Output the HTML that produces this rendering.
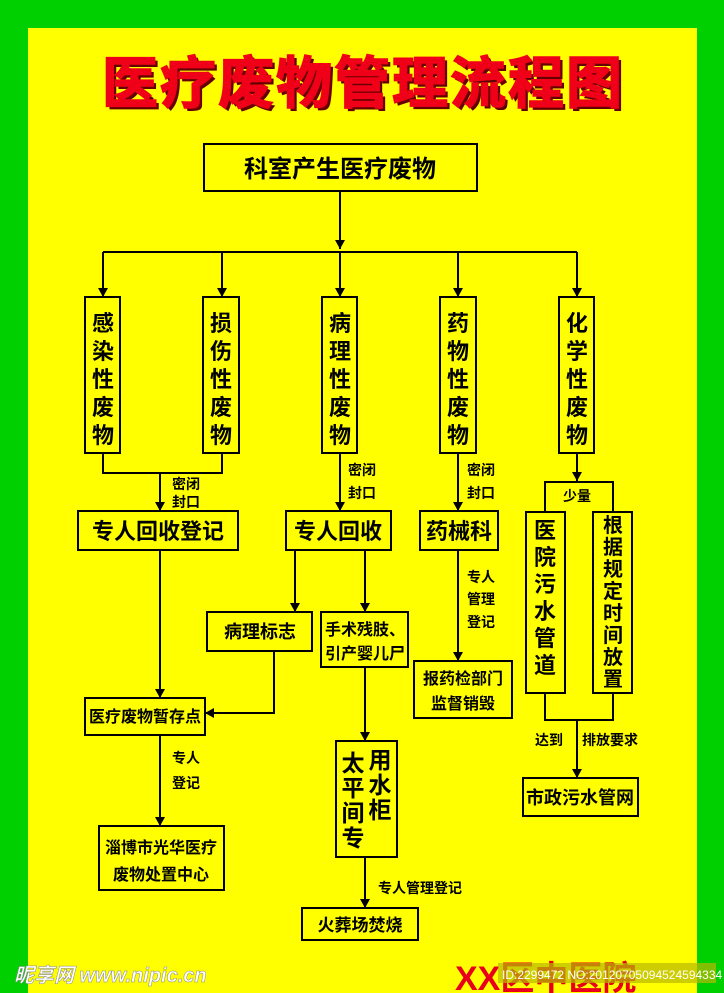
<!DOCTYPE html>
<html><head><meta charset="utf-8"><style>
html,body{margin:0;padding:0;background:#00d000;}
svg{display:block}
text{font-family:"Liberation Sans","Noto Sans CJK SC",sans-serif;fill:#000;}
</style></head><body>
<svg width="724" height="993" viewBox="0 0 724 993" xmlns="http://www.w3.org/2000/svg">
<defs><marker id="a" markerWidth="10" markerHeight="10" refX="9" refY="5" orient="auto" markerUnits="userSpaceOnUse"><path d="M0,0 L9,5 L0,10 Z" fill="#000"/></marker></defs>
<rect x="0" y="0" width="724" height="993" fill="#00d000"/>
<rect x="28" y="28" width="669" height="965" fill="#ffff00"/>
<text x="366" y="106" text-anchor="middle" font-size="56" font-weight="bold" style="fill:#600;letter-spacing:2px;font-family:'Noto Sans CJK SC',sans-serif">医疗废物管理流程图</text>
<text x="363" y="103" text-anchor="middle" font-size="56" font-weight="bold" style="fill:#f00018;stroke:#f00018;stroke-width:1.5;letter-spacing:2px;font-family:'Noto Sans CJK SC',sans-serif">医疗废物管理流程图</text>
<g fill="none" stroke="#000" stroke-width="2">
<rect x="204" y="144" width="273" height="47"/>
<rect x="85" y="297" width="35" height="156"/>
<rect x="203" y="297" width="36" height="156"/>
<rect x="322" y="297" width="35" height="156"/>
<rect x="440" y="297" width="36" height="156"/>
<rect x="559" y="297" width="35" height="156"/>
<rect x="78" y="511" width="160" height="39"/>
<rect x="286" y="511" width="105" height="39"/>
<rect x="420" y="511" width="78" height="39"/>
<rect x="526" y="512" width="39" height="181"/>
<rect x="593" y="512" width="39" height="181"/>
<rect x="523" y="778" width="115" height="38"/>
<rect x="85" y="698" width="120" height="37"/>
<rect x="99" y="826" width="125" height="64"/>
<rect x="207" y="612" width="105" height="39"/>
<rect x="321" y="612" width="87" height="55"/>
<rect x="336" y="741" width="61" height="116"/>
<rect x="302" y="908" width="116" height="32"/>
<rect x="414" y="661" width="98" height="57"/>
</g>
<g fill="none" stroke="#000" stroke-width="2">
<path d="M340,191 V249" marker-end="url(#a)"/>
<path d="M103,252 H577"/>
<path d="M103,252 V297" marker-end="url(#a)"/>
<path d="M222,252 V297" marker-end="url(#a)"/>
<path d="M340,252 V297" marker-end="url(#a)"/>
<path d="M458,252 V297" marker-end="url(#a)"/>
<path d="M577,252 V297" marker-end="url(#a)"/>
<path d="M103,453 V473 H222 V453"/>
<path d="M160,473 V511" marker-end="url(#a)"/>
<path d="M340,453 V511" marker-end="url(#a)"/>
<path d="M458,453 V511" marker-end="url(#a)"/>
<path d="M577,453 V481" marker-end="url(#a)"/>
<path d="M545,512 V482 H613 V512"/>
<path d="M545,693 V720 H613 V693"/>
<path d="M577,720 V778" marker-end="url(#a)"/>
<path d="M160,550 V698" marker-end="url(#a)"/>
<path d="M160,735 V826" marker-end="url(#a)"/>
<path d="M295,550 V612" marker-end="url(#a)"/>
<path d="M365,550 V612" marker-end="url(#a)"/>
<path d="M274,651 V713 H205" marker-end="url(#a)"/>
<path d="M365,667 V741" marker-end="url(#a)"/>
<path d="M365,857 V908" marker-end="url(#a)"/>
<path d="M458,550 V661" marker-end="url(#a)"/>
</g>
<text x="340" y="177" text-anchor="middle" font-size="24" font-weight="bold">科室产生医疗废物</text>
<g font-size="22" text-anchor="middle" font-weight="bold">
<text x="103" y="331">感</text><text x="103" y="359">染</text><text x="103" y="387">性</text><text x="103" y="415">废</text><text x="103" y="443">物</text>
<text x="221" y="331">损</text><text x="221" y="359">伤</text><text x="221" y="387">性</text><text x="221" y="415">废</text><text x="221" y="443">物</text>
<text x="340" y="331">病</text><text x="340" y="359">理</text><text x="340" y="387">性</text><text x="340" y="415">废</text><text x="340" y="443">物</text>
<text x="458" y="331">药</text><text x="458" y="359">物</text><text x="458" y="387">性</text><text x="458" y="415">废</text><text x="458" y="443">物</text>
<text x="577" y="331">化</text><text x="577" y="359">学</text><text x="577" y="387">性</text><text x="577" y="415">废</text><text x="577" y="443">物</text>
<text x="545" y="538">医</text><text x="545" y="565">院</text><text x="545" y="592">污</text><text x="545" y="619">水</text><text x="545" y="646">管</text><text x="545" y="673">道</text>
<text x="158" y="539">专人回收登记</text>
<text x="338" y="539">专人回收</text>
<text x="459" y="539">药械科</text>
</g>
<g font-size="20" text-anchor="middle" font-weight="bold">
<text x="613" y="532">根</text><text x="613" y="554">据</text><text x="613" y="576">规</text><text x="613" y="598">定</text><text x="613" y="620">时</text><text x="613" y="642">间</text><text x="613" y="664">放</text><text x="613" y="686">置</text>
</g>
<g font-size="23" text-anchor="middle" font-weight="bold">
<text x="353" y="771">太</text><text x="353" y="796">平</text><text x="353" y="821">间</text><text x="353" y="846">专</text>
<text x="380" y="768">用</text><text x="380" y="793">水</text><text x="380" y="818">柜</text>
</g>
<g font-size="14" text-anchor="start" font-weight="bold">
<text x="172" y="489">密闭</text><text x="172" y="507">封口</text>
<text x="348" y="475">密闭</text><text x="348" y="498">封口</text>
<text x="467" y="475">密闭</text><text x="467" y="498">封口</text>
<text x="467" y="582">专人</text><text x="467" y="604">管理</text><text x="467" y="627">登记</text>
<text x="172" y="763">专人</text><text x="172" y="788">登记</text>
<text x="563" y="501">少量</text>
<text x="535" y="745">达到</text><text x="582" y="745">排放要求</text>
<text x="378" y="893">专人管理登记</text>
</g>
<g font-size="18" text-anchor="middle" font-weight="bold">
<text x="260" y="638">病理标志</text>
<text x="580" y="804">市政污水管网</text>
<text x="360" y="931" font-size="17">火葬场焚烧</text>
</g>
<g font-size="16" text-anchor="middle" font-weight="bold">
<text x="145" y="722">医疗废物暂存点</text>
<text x="161" y="853">淄博市光华医疗</text>
<text x="161" y="880">废物处置中心</text>
<text x="365" y="635">手术残肢、</text>
<text x="365" y="659">引产婴儿尸</text>
<text x="463" y="684">报药检部门</text>
<text x="463" y="709">监督销毁</text>
</g>
<text x="455" y="990" font-size="34" font-weight="bold" style="fill:#e8001a">XX区中医院</text>
<rect x="498" y="963" width="218" height="20" fill="#b8b800" opacity="0.7"/>
<text x="502" y="979" font-size="12" style="fill:#fff">ID:2299472 NO:20120705094524594334</text>
<text x="14" y="982" font-size="20" font-weight="bold" font-style="italic" style="fill:#fff;stroke:#888;stroke-width:0.5">昵享网 www.nipic.cn</text>
</svg>
</body></html>
